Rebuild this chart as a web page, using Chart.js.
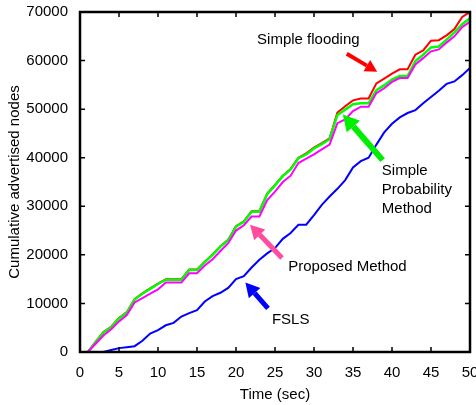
<!DOCTYPE html>
<html>
<head>
<meta charset="utf-8">
<script src="https://cdn.jsdelivr.net/npm/chart.js@4.4.1/dist/chart.umd.min.js"></script>
<style>
  html, body { margin: 0; padding: 0; background: #fff; }
  #wrap { width: 476px; height: 405px; }
</style>
</head>
<body>
<div id="wrap"><canvas id="chart" width="476" height="405"></canvas></div>
<script>
// time in seconds
const time = [1, 2, 3, 4, 5, 6, 7, 8, 9, 10, 11, 12, 13, 14, 15, 16, 17, 18, 19, 20,
  21, 22, 23, 24, 25, 26, 27, 28, 29, 30, 31, 32, 33, 34, 35, 36, 37, 38, 39, 40,
  41, 42, 43, 44, 45, 46, 47, 48, 49, 50];

const simpleFlooding = [0, 2100, 4100, 5200, 7000, 8200, 10900, 12100, 13100, 14100,
  15000, 15000, 15000, 17000, 17000, 18600, 20100, 21800, 23100, 25900,
  26900, 29000, 29000, 32600, 34400, 36300, 37700, 40000, 40900, 42100,
  43000, 44000, 49300, 50600, 51800, 52200, 52200, 55300, 56300, 57300,
  58200, 58200, 61200, 62100, 64100, 64200, 65200, 66500, 69000, 70000];

const simpleProbability = [0, 2000, 4000, 5100, 6900, 8100, 10800, 12000, 13000, 14000,
  14900, 14900, 14900, 16900, 16900, 18500, 20000, 21700, 23000, 25800,
  26800, 28900, 28900, 32500, 34300, 36200, 37600, 39900, 40700, 41900,
  42800, 43800, 48800, 49900, 51000, 51200, 51200, 53900, 54900, 56100,
  56800, 56800, 59900, 61200, 62700, 62900, 64300, 65800, 67500, 68700];

const proposedMethod = [0, 1700, 3400, 4700, 6300, 7600, 10200, 11100, 12000, 12900,
  14300, 14300, 14300, 16200, 16200, 17800, 19100, 20800, 22400, 25000,
  26100, 27900, 27900, 31300, 33000, 35000, 36300, 38900, 39800, 40700,
  41700, 42700, 47100, 47900, 49600, 50500, 50500, 53300, 54300, 55600,
  56400, 56400, 59200, 60500, 61900, 62300, 63700, 65000, 66900, 68000];

const fsls = [0, 0, 0, 400, 800, 1000, 1200, 2300, 3800, 4500,
  5500, 6000, 7300, 8000, 8600, 10400, 11500, 12200, 13200, 15000,
  15600, 17400, 19000, 20300, 21400, 23300, 24500, 26200, 26200, 28200,
  30300, 32000, 33600, 35400, 38000, 39300, 40000, 42700, 45200, 47000,
  48300, 49200, 49800, 51200, 52500, 53800, 55200, 55700, 57000, 58500];

const FONT = 'Liberation Sans, Arial, Helvetica, sans-serif';

function pts(vals) {
  return time.map((t, i) => ({ x: t, y: vals[i] }));
}

// labels and arrows, in data coordinates
const notes = [
  { text: ['Simple flooding'], x: 22.7, y: 64300 },
  { text: ['Simple', 'Probability', 'Method'], x: 38.7, y: 37300 },
  { text: ['Proposed Method'], x: 26.7, y: 17600 },
  { text: ['FSLS'], x: 24.6, y: 6600 }
];
const arrows = [
  { from: [34.2, 61400], to: [38.1, 57700], color: '#ff0000', w: 4, head: 12 },
  { from: [38.8, 39500], to: [33.7, 48900], color: '#00ee00', w: 6, head: 16 },
  { from: [25.9, 19350], to: [21.8, 26200], color: '#ff4c9c', w: 5, head: 14 },
  { from: [24.1, 9000], to: [21.2, 14300], color: '#0000ff', w: 5, head: 14 }
];

function drawArrow(ctx, x1, y1, x2, y2, color, w, head) {
  const a = Math.atan2(y2 - y1, x2 - x1);
  const bx = x2 - head * Math.cos(a), by = y2 - head * Math.sin(a);
  ctx.strokeStyle = color;
  ctx.lineWidth = w;
  ctx.beginPath();
  ctx.moveTo(x1, y1);
  ctx.lineTo(bx, by);
  ctx.stroke();
  ctx.fillStyle = color;
  ctx.beginPath();
  ctx.moveTo(x2, y2);
  ctx.lineTo(bx + head * 0.55 * Math.sin(a), by - head * 0.55 * Math.cos(a));
  ctx.lineTo(bx - head * 0.55 * Math.sin(a), by + head * 0.55 * Math.cos(a));
  ctx.closePath();
  ctx.fill();
}

const frameAndNotes = {
  id: 'frameAndNotes',
  afterDraw(chart) {
    const { ctx, chartArea: a, scales: { x, y } } = chart;
    ctx.save();
    // inward ticks on all four sides
    ctx.strokeStyle = '#000';
    ctx.lineWidth = 1.5;
    ctx.beginPath();
    x.ticks.forEach(t => {
      const px = x.getPixelForValue(t.value);
      ctx.moveTo(px, a.bottom); ctx.lineTo(px, a.bottom - 5);
      ctx.moveTo(px, a.top); ctx.lineTo(px, a.top + 5);
    });
    y.ticks.forEach(t => {
      const py = y.getPixelForValue(t.value);
      ctx.moveTo(a.left, py); ctx.lineTo(a.left + 5, py);
      ctx.moveTo(a.right, py); ctx.lineTo(a.right - 5, py);
    });
    ctx.stroke();
    ctx.lineWidth = 2.5;
    ctx.strokeRect(a.left, a.top, a.right - a.left, a.bottom - a.top);

    // annotation text
    ctx.fillStyle = '#000';
    ctx.font = '15px ' + FONT;
    ctx.textAlign = 'left';
    ctx.textBaseline = 'middle';
    notes.forEach(n => {
      const px = x.getPixelForValue(n.x), py = y.getPixelForValue(n.y);
      n.text.forEach((line, i) => ctx.fillText(line, px, py + i * 19));
    });
    arrows.forEach(ar => {
      drawArrow(ctx,
        x.getPixelForValue(ar.from[0]), y.getPixelForValue(ar.from[1]),
        x.getPixelForValue(ar.to[0]), y.getPixelForValue(ar.to[1]),
        ar.color, ar.w, ar.head);
    });
    ctx.restore();
  }
};

new Chart(document.getElementById('chart'), {
  type: 'line',
  data: {
    datasets: [
      { label: 'FSLS', data: pts(fsls), borderColor: '#0000ff', borderWidth: 2, order: 0 },
      { label: 'Proposed Method', data: pts(proposedMethod), borderColor: '#ff00ff', borderWidth: 2, order: 1 },
      { label: 'Simple Probability Method', data: pts(simpleProbability), borderColor: '#00ff00', borderWidth: 2.5, order: 2 },
      { label: 'Simple flooding', data: pts(simpleFlooding), borderColor: '#ff0000', borderWidth: 2, order: 3 }
    ]
  },
  options: {
    responsive: false,
    animation: false,
    events: [],
    elements: { point: { radius: 0 }, line: { tension: 0 } },
    layout: { padding: { left: 0, top: 12, right: 6, bottom: 0 } },
    plugins: { legend: { display: false }, tooltip: { enabled: false } },
    scales: {
      x: {
        type: 'linear',
        min: 0, max: 50,
        grid: { display: false, drawTicks: false },
        border: { display: false },
        ticks: { stepSize: 5, color: '#000', padding: 12, font: { family: FONT, size: 15 }, maxRotation: 0,
          callback: v => String(v) },
        title: { display: true, text: 'Time (sec)', color: '#000', font: { family: FONT, size: 15 }, padding: { top: 0, bottom: 1 } },
        afterFit(s) { s.height = 53; s.paddingLeft = 0; s.paddingRight = 0; }
      },
      y: {
        min: 0, max: 70000,
        grid: { display: false, drawTicks: false },
        border: { display: false },
        ticks: { stepSize: 10000, color: '#000', padding: 12, font: { family: FONT, size: 15 },
          callback: v => String(v) },
        title: { display: true, text: 'Cumulative advertised nodes', color: '#000', font: { family: FONT, size: 15 }, padding: { top: 6, bottom: 0 } },
        afterFit(s) { s.width = 80; s.paddingTop = 0; s.paddingBottom = 0; }
      }
    }
  },
  plugins: [frameAndNotes]
});
</script>
</body>
</html>
